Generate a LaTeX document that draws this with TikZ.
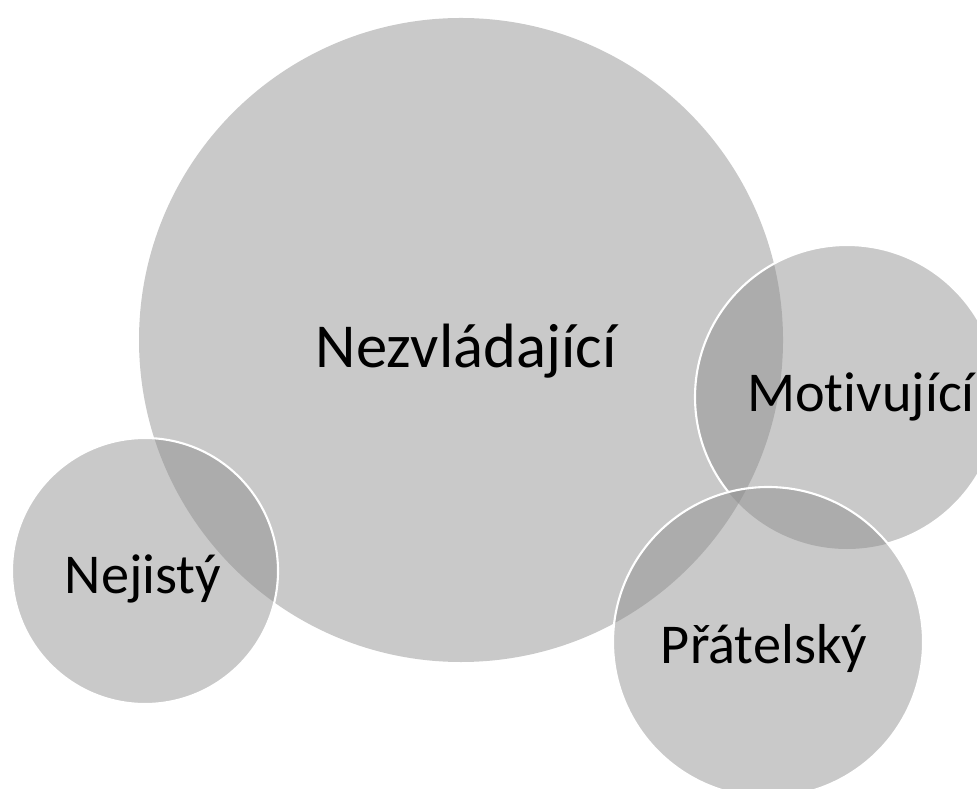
\documentclass[tikz,border=0pt]{standalone}
\usepackage{fontspec}
\setmainfont{Carlito}[Ligatures=NoCommon]
\definecolor{bubblegray}{RGB}{140,140,140}
\tikzset{
    bubble/.style={fill=bubblegray,fill opacity=0.47},
    rim/.style={draw=white,line width=0.6pt},
    word/.style={anchor=base,text=black,font=\fontsize{16}{19}\selectfont},
    bigword/.style={word,font=\fontsize{17.8}{21}\selectfont}
}
\begin{document}
\begin{tikzpicture}[x=0.01cm,y=-0.01cm]
    \clip (0,0) rectangle (977,789);
    \coordinate (big) at (461,340);
    \coordinate (unsure) at (145,571);
    \coordinate (motive) at (847,397);
    \coordinate (friend) at (768,642);
    \fill[bubble] (big) circle (322);
    \fill[bubble] (unsure) circle (133);
    \fill[bubble] (motive) circle (152);
    \fill[bubble] (friend) circle (155);
    \draw[rim] (unsure) circle (133);
    \begin{scope}
        \clip (friend) circle (155) (-10,-10) rectangle (1000,800);
        \draw[rim] (motive) circle (152);
    \end{scope}
    \draw[rim] (friend) circle (155);
    \node[bigword] (nezvladajici) at (466,368) {Nezvládající};
    \node[word] (motivujici) at (861,412) {Motivující};
    \node[word] (nejisty) at (143,593) {Nejistý};
    \node[word] (pratelsky) at (764,663) {Přátelský};
\end{tikzpicture}
\end{document}
